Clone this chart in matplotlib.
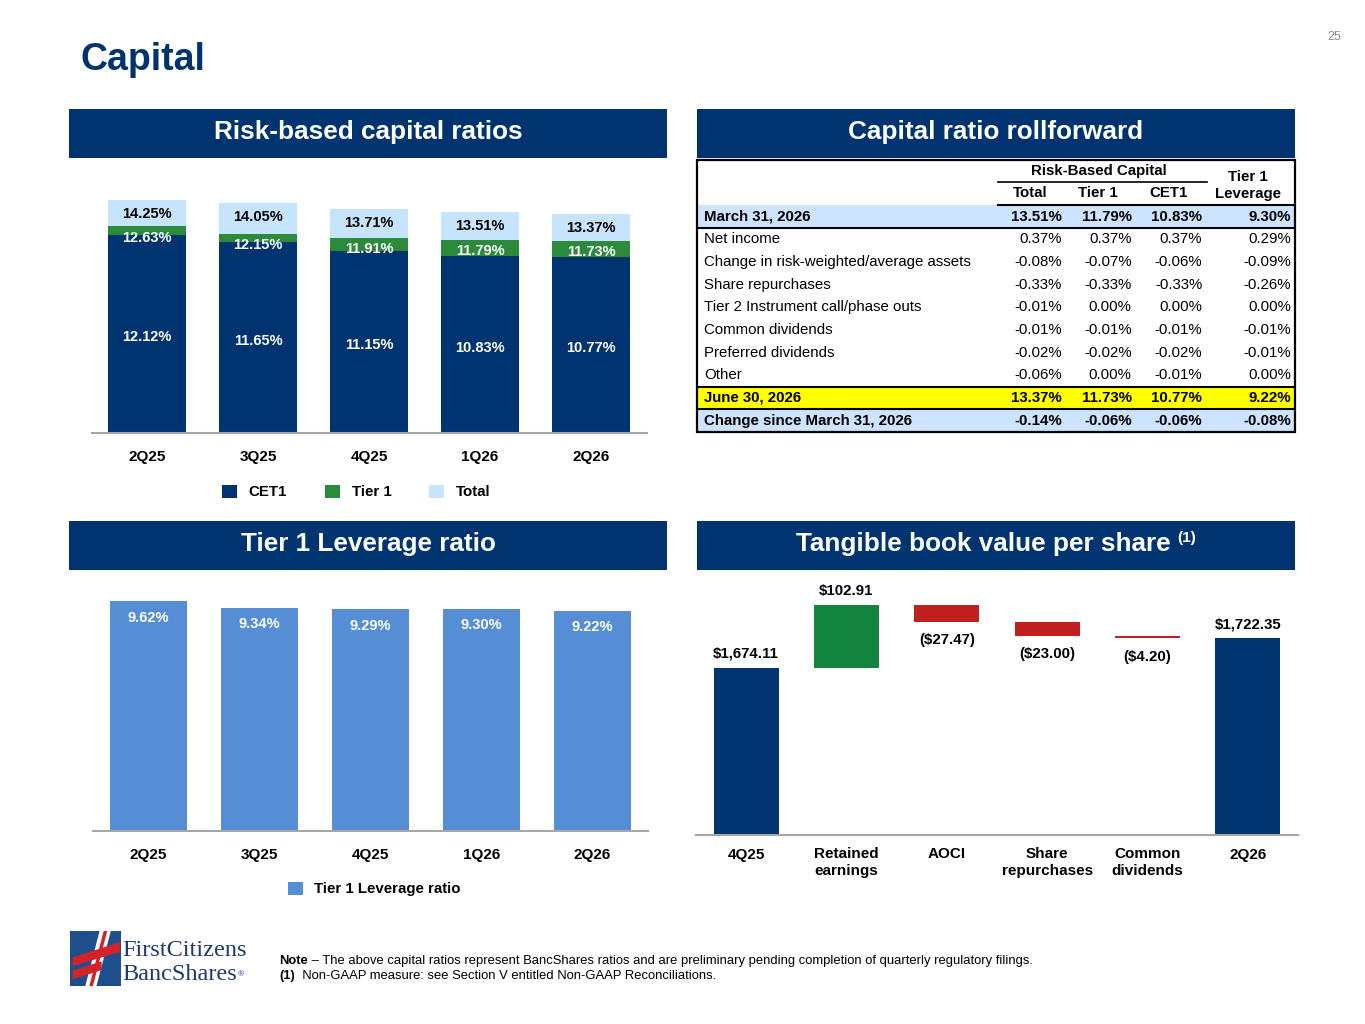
import numpy as np
import matplotlib.pyplot as plt
from matplotlib.patches import Rectangle, Polygon

plt.rcParams['font.family'] = ['Liberation Sans', 'DejaVu Sans']

W, H = 1365, 1024
NAVY = "#003470"
GREEN = "#2C8A3C"
LBLUE = "#C6E4FB"
MBLUE = "#558ED5"
WGREEN = "#138440"
RED = "#C0211F"
AXGRAY = "#A6A6A6"
ROWBLUE = "#CCE4FF"

# Risk-based capital ratios
quarters = ["2Q25", "3Q25", "4Q25", "1Q26", "2Q26"]
cet1 = np.array([12.12, 11.65, 11.15, 10.83, 10.77])
tier1 = np.array([12.63, 12.15, 11.91, 11.79, 11.73])
total = np.array([14.25, 14.05, 13.71, 13.51, 13.37])

# Tier 1 leverage ratio
leverage = np.array([9.62, 9.34, 9.29, 9.30, 9.22])

# Tangible book value per share waterfall
tbv_labels = ["4Q25", "Retained\nearnings", "AOCI", "Share\nrepurchases", "Common\ndividends", "2Q26"]
tbv_start = 1674.11
tbv_changes = np.array([102.91, -27.47, -23.00, -4.20])
tbv_end = 1722.35

# Capital ratio rollforward table
row_names = ["March 31, 2026", "Net income", "Change in risk-weighted/average assets",
             "Share repurchases", "Tier 2 Instrument call/phase outs", "Common dividends",
             "Preferred dividends", "Other", "June 30, 2026", "Change since March 31, 2026"]
col_total = [13.51, 0.37, -0.08, -0.33, -0.01, -0.01, -0.02, -0.06, 13.37, -0.14]
col_tier1 = [11.79, 0.37, -0.07, -0.33, 0.00, -0.01, -0.02, 0.00, 11.73, -0.06]
col_cet1 = [10.83, 0.37, -0.06, -0.33, 0.00, -0.01, -0.02, -0.01, 10.77, -0.06]
col_lev = [9.30, 0.29, -0.09, -0.26, 0.00, -0.01, -0.01, 0.00, 9.22, -0.08]


def box(x0, y0, x1, y1):
    return [x0 / W, 1 - y1 / H, (x1 - x0) / W, (y1 - y0) / H]


fig = plt.figure(figsize=(W / 100, H / 100), dpi=100)

# overlay axes for text that is positioned relative to other text
ax_txt = fig.add_axes([0, 0, 1, 1])
ax_txt.axis("off")
ax_txt.set_zorder(10)

fig.text(80 / W, 1 - 60 / H, "Capital", fontsize=27, fontweight="bold", color=NAVY,
         ha="left", va="center")
fig.text(1334 / W, 1 - 37 / H, "25", fontsize=9, color="#8C8C8C", ha="center", va="center")


def header(x0, y0, x1, y1, label, cx=None):
    fig.add_artist(Rectangle((x0 / W, 1 - y1 / H), (x1 - x0) / W, (y1 - y0) / H,
                             transform=fig.transFigure, color=NAVY, lw=0))
    if cx is None:
        cx = (x0 + x1) / 2
    return fig.text(cx / W, 1 - (y0 + y1 - 3) / 2 / H, label, ha="center", va="center",
                    color="white", fontsize=18.8, fontweight="bold")


header(69, 109, 667, 158, "Risk-based capital ratios")
header(697, 109, 1295, 158, "Capital ratio rollforward")
header(69, 521, 667, 570, "Tier 1 Leverage ratio")
tb = header(697, 521, 1295, 570, "Tangible book value per share", cx=983)
ax_txt.annotate("(1)", xy=(1, 1), xycoords=tb, xytext=(5, 1), textcoords="offset points",
                ha="left", va="top", color="white", fontsize=11, fontweight="bold")


def style_axis(ax, pad):
    for s in ["top", "right", "left"]:
        ax.spines[s].set_visible(False)
    ax.spines["bottom"].set_color(AXGRAY)
    ax.spines["bottom"].set_linewidth(1.5)
    ax.set_yticks([])
    ax.tick_params(axis="x", length=0, pad=pad)
    for lbl in ax.get_xticklabels():
        lbl.set_fontweight("bold")
        lbl.set_fontsize(11)


# ---- Risk-based capital ratios (stacked) ----
ax1 = fig.add_axes(box(91.5, 190, 646.5, 433))
x = np.arange(len(quarters))
b_cet1 = ax1.bar(x, cet1, 0.7, color=NAVY)
b_t1 = ax1.bar(x, tier1 - cet1, 0.7, bottom=cet1, color=GREEN)
b_tot = ax1.bar(x, total - tier1, 0.7, bottom=tier1, color=LBLUE)
ax1.set_xlim(-0.5, len(quarters) - 0.5)
ax1.set_ylim(0, 14.86)
ax1.set_xticks(x, quarters)
style_axis(ax1, 12)
for i in range(len(quarters)):
    ax1.text(x[i], cet1[i] / 2 - 0.2, f"{cet1[i]:.2f}%", ha="center", va="center",
             color="white", fontsize=10.5, fontweight="bold")
    ax1.annotate(f"{tier1[i]:.2f}%", (x[i], tier1[i]), xytext=(0, -3), textcoords="offset points",
                 ha="center", va="top", color="white", fontsize=10.5, fontweight="bold")
    ax1.annotate(f"{total[i]:.2f}%", (x[i], total[i]), xytext=(0, -5), textcoords="offset points",
                 ha="center", va="top", color="black", fontsize=10.5, fontweight="bold")
fig.legend([b_cet1, b_t1, b_tot], ["CET1", "Tier 1", "Total"], loc="center",
           bbox_to_anchor=(356 / W, 1 - 492 / H), ncol=3, frameon=False,
           prop={"weight": "bold", "size": 10.8}, handlelength=1.0, handleheight=1.0,
           handletextpad=0.8, columnspacing=2.5)

# ---- Tier 1 Leverage ratio ----
ax2 = fig.add_axes(box(93, 590, 648, 831))
b_lev = ax2.bar(x, leverage, 0.7, color=MBLUE)
ax2.set_xlim(-0.5, len(quarters) - 0.5)
ax2.set_ylim(0, 10.08)
ax2.set_xticks(x, quarters)
style_axis(ax2, 12)
for i in range(len(quarters)):
    ax2.annotate(f"{leverage[i]:.2f}%", (x[i], leverage[i]), xytext=(0, -7),
                 textcoords="offset points", ha="center", va="top", color="white",
                 fontsize=10.5, fontweight="bold")
fig.legend([b_lev], ["Tier 1 Leverage ratio"], loc="center",
           bbox_to_anchor=(374 / W, 1 - 889 / H), frameon=False,
           prop={"weight": "bold", "size": 10.8}, handlelength=1.0, handleheight=1.0,
           handletextpad=0.7)

# ---- Tangible book value waterfall ----
ax3 = fig.add_axes(box(696, 585, 1298, 835))
xw = np.arange(len(tbv_labels))
levels = tbv_start + np.concatenate([[0], np.cumsum(tbv_changes)])
ax3.bar(xw[0], tbv_start, 0.65, color=NAVY)
ax3.bar(xw[-1], tbv_end, 0.65, color=NAVY)
for i, chg in enumerate(tbv_changes):
    ax3.bar(xw[i + 1], chg, 0.65, bottom=levels[i], color=WGREEN if chg > 0 else RED)
    if chg > 0:
        ax3.annotate(f"${chg:,.2f}", (xw[i + 1], levels[i] + chg), xytext=(0, 5),
                     textcoords="offset points", ha="center", va="bottom",
                     fontsize=10.8, fontweight="bold")
    else:
        ax3.annotate(f"(${abs(chg):,.2f})", (xw[i + 1], levels[i] + chg), xytext=(0, -8),
                     textcoords="offset points", ha="center", va="top",
                     fontsize=10.8, fontweight="bold")
for xi, v in [(xw[0], tbv_start), (xw[-1], tbv_end)]:
    ax3.annotate(f"${v:,.2f}", (xi, v), xytext=(0, 5), textcoords="offset points",
                 ha="center", va="bottom", fontsize=10.8, fontweight="bold")
ax3.set_xlim(-0.5, len(tbv_labels) - 0.5)
ax3.set_ylim(1400, 1810)
ax3.set_xticks(xw, tbv_labels)
style_axis(ax3, 9)

# ---- Capital ratio rollforward table ----
ax4 = fig.add_axes(box(697, 160, 1295, 432))
ax4.set_xlim(0, 1)
ax4.set_ylim(12, 0)
ax4.axis("off")
fills = {0: ROWBLUE, 8: "#FFFF00", 9: ROWBLUE}
for r, c in fills.items():
    ax4.add_patch(Rectangle((0, 2 + r), 1, 1, color=c, lw=0))
col_right = [0.610, 0.727, 0.845, 0.993]
cols = [col_total, col_tier1, col_cet1, col_lev]
fs = 10.8
for r, name in enumerate(row_names):
    wt = "bold" if r in fills else "normal"
    yc = 2.5 + r
    ax4.text(0.012, yc, name, ha="left", va="center", fontsize=fs, fontweight=wt)
    for cr, col in zip(col_right, cols):
        ax4.text(cr, yc, f"{col[r]:.2f}%", ha="right", va="center", fontsize=fs, fontweight=wt)
ax4.text(0.672, 0.5, "Risk-Based Capital", ha="center", va="center", fontsize=fs, fontweight="bold")
ax4.plot([0.503, 0.853], [0.95, 0.95], color="black", lw=1.2)
for lbl, cx in zip(["Total", "Tier 1", "CET1"], [0.557, 0.671, 0.788]):
    ax4.text(cx, 1.47, lbl, ha="center", va="center", fontsize=fs, fontweight="bold")
ax4.text(0.921, 1.12, "Tier 1\nLeverage", ha="center", va="center", fontsize=fs,
         fontweight="bold", linespacing=1.25)
ax4.plot([0.503, 1], [2, 2], color="black", lw=1.5)
for yl in [3, 10, 11]:
    ax4.plot([0, 1], [yl, yl], color="black", lw=1.5)
ax4.add_patch(Rectangle((0, 0), 1, 12, fill=False, ec="black", lw=1.6, clip_on=False))

# ---- Logo ----
axl = fig.add_axes(box(70, 931, 121, 986))
axl.set_xlim(0, 1)
axl.set_ylim(0, 1)
axl.axis("off")
axl.add_patch(Rectangle((0, 0), 1, 1, color="#1F4E8C", lw=0))
axl.add_patch(Polygon([(0.30, 0.0), (0.52, 0.0), (0.80, 1.0), (0.58, 1.0)], color="white", lw=0))
axl.add_patch(Polygon([(0.05, 0.52), (0.98, 0.80), (0.98, 0.62), (0.05, 0.36)], color="#D2232A", lw=0))
axl.add_patch(Polygon([(0.05, 0.28), (0.62, 0.45), (0.62, 0.29), (0.05, 0.12)], color="#D2232A", lw=0))
axl.add_patch(Polygon([(0.38, 0.0), (0.45, 0.0), (0.73, 1.0), (0.66, 1.0)], color="#D2232A", lw=0))
fig.text(122 / W, 1 - 951 / H, "FirstCitizens", family="Liberation Serif", fontsize=17.5,
         color="#1F3A6E", ha="left", va="center")
bs = fig.text(122 / W, 1 - 974 / H, "BancShares", family="Liberation Serif", fontsize=17.5,
              color="#1F3A6E", ha="left", va="center")
ax_txt.annotate("\u00ae", xy=(1, 0.3), xycoords=bs, xytext=(1, 0), textcoords="offset points",
                fontsize=6, color="#1F3A6E", ha="left", va="bottom")

# ---- Footnotes ----
n1 = ax_txt.annotate("Note", xy=(279 / W, 1 - 961 / H), xycoords="figure fraction",
                     ha="left", va="center", fontsize=9.4, fontweight="bold")
ax_txt.annotate(" \u2013 The above capital ratios represent BancShares ratios and are preliminary "
                "pending completion of quarterly regulatory filings.",
                xy=(1, 0), xycoords=n1, ha="left", va="bottom", fontsize=9.4)
n2 = ax_txt.annotate("(1)", xy=(279 / W, 1 - 976 / H), xycoords="figure fraction",
                     ha="left", va="center", fontsize=9.4, fontweight="bold")
ax_txt.annotate("  Non-GAAP measure: see Section V entitled Non-GAAP Reconciliations.",
                xy=(1, 0), xycoords=n2, ha="left", va="bottom", fontsize=9.4)

fig.savefig("out.png", dpi=100)
